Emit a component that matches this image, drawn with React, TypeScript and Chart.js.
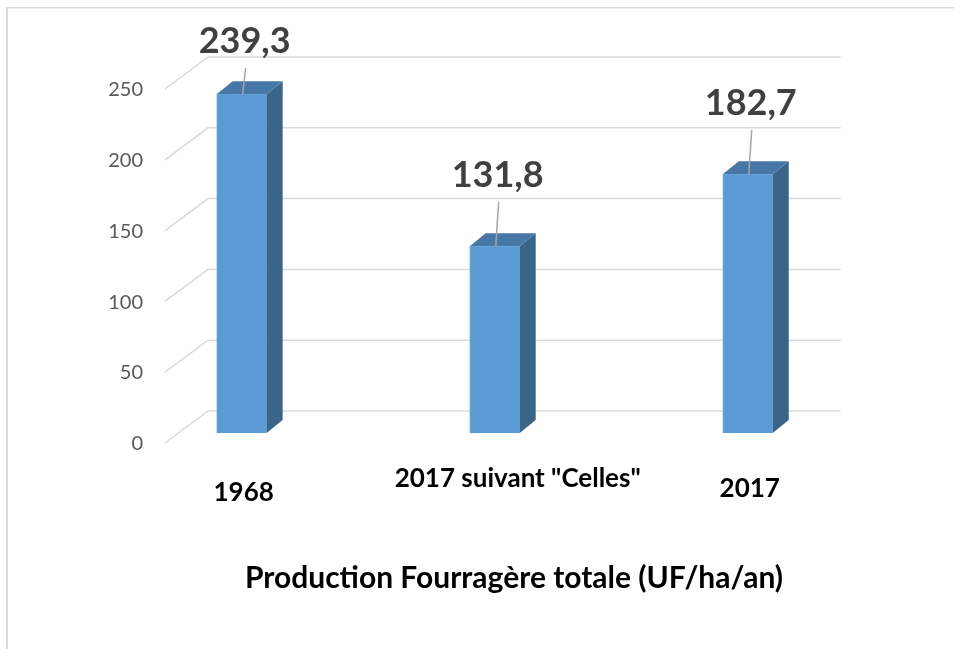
import React, { useEffect, useRef } from "react";
import { Chart, registerables } from "chart.js";

Chart.register(...registerables);

// ---- data ----
const categories = ["1968", "2017 suivant \"Celles\"", "2017"];
const values = [239.3, 131.8, 182.7];
const yTicks = [0, 50, 100, 150, 200, 250];
const axisTitle = "Production Fourragère totale (UF/ha/an)";

// ---- 3D look (layout / style) ----
const FRONT = { dx: -13.4, dy: 10 };
const BACK = { dx: 29.6, dy: -22 };
const BAR_DEPTH = { dx: 16, dy: -13 };
const CAT_NUDGE = [
  { dx: 2, dy: 68 },
  { dx: 23, dy: 54 },
  { dx: 2, dy: 64 },
];
const FONT = "Lato, 'Open Sans', sans-serif";

const fmt = (v: number) => v.toFixed(1).replace(".", ",");

const poly = (ctx: CanvasRenderingContext2D, pts: number[][]) => {
  ctx.beginPath();
  ctx.moveTo(pts[0][0], pts[0][1]);
  for (let i = 1; i < pts.length; i++) ctx.lineTo(pts[i][0], pts[i][1]);
  ctx.closePath();
  ctx.fill();
};

const threeD = {
  id: "threeD",
  beforeDraw(chart: any) {
    const { ctx, width, height } = chart;
    ctx.save();
    ctx.fillStyle = "#ffffff";
    ctx.fillRect(0, 0, width, height);
    ctx.fillStyle = "#d9d9d9";
    ctx.fillRect(6, 7, 2, height - 7);
    ctx.fillRect(6, 7, width - 6, 1.5);
    ctx.restore();
  },
  beforeDatasetsDraw(chart: any) {
    const { ctx, chartArea: a } = chart;
    const y = chart.scales.y;
    ctx.save();
    ctx.strokeStyle = "#d9d9d9";
    ctx.lineWidth = 1.5;
    yTicks.forEach((v) => {
      const py = y.getPixelForValue(v);
      ctx.beginPath();
      ctx.moveTo(a.left + FRONT.dx, py + FRONT.dy);
      ctx.lineTo(a.left + BACK.dx, py + BACK.dy);
      ctx.lineTo(a.right + BACK.dx, py + BACK.dy);
      ctx.stroke();
    });
    ctx.fillStyle = "#595959";
    ctx.font = `20px ${FONT}`;
    ctx.textAlign = "right";
    ctx.textBaseline = "alphabetic";
    yTicks.forEach((v) => {
      const py = y.getPixelForValue(v);
      ctx.fillText(String(v), a.left + FRONT.dx - 22, py + FRONT.dy + 7.2);
    });
    ctx.restore();
  },
  afterDatasetsDraw(chart: any) {
    const { ctx, chartArea: a } = chart;
    const meta = chart.getDatasetMeta(0);
    ctx.save();
    meta.data.forEach((bar: any, i: number) => {
      const { x, y: top, base, width } = bar.getProps(["x", "y", "base", "width"], true);
      const l = x - width / 2;
      const r = x + width / 2;
      ctx.fillStyle = "#3b6489";
      poly(ctx, [
        [r, top],
        [r + BAR_DEPTH.dx, top + BAR_DEPTH.dy],
        [r + BAR_DEPTH.dx, base + BAR_DEPTH.dy],
        [r, base],
      ]);
      ctx.fillStyle = "#4677a6";
      poly(ctx, [
        [l, top],
        [l + BAR_DEPTH.dx, top + BAR_DEPTH.dy],
        [r + BAR_DEPTH.dx, top + BAR_DEPTH.dy],
        [r, top],
      ]);

      // data label with leader line
      const baseline = Math.max(top - 59.5, a.top - 26);
      const lineStart = Math.max(baseline + 15, top - 45);
      ctx.strokeStyle = "#a6a6a6";
      ctx.lineWidth = 1.5;
      ctx.beginPath();
      ctx.moveTo(x + 4, lineStart);
      ctx.lineTo(x + 1, top);
      ctx.stroke();
      ctx.fillStyle = "#404040";
      ctx.font = `bold 36px ${FONT}`;
      ctx.textAlign = "center";
      ctx.textBaseline = "alphabetic";
      ctx.fillText(fmt(values[i]), x + 3, baseline);

      // category label
      ctx.fillStyle = "#000000";
      ctx.font = `bold 26px ${FONT}`;
      ctx.fillText(categories[i], x + CAT_NUDGE[i].dx, base + CAT_NUDGE[i].dy);
    });
    ctx.fillStyle = "#000000";
    ctx.font = `bold 30px ${FONT}`;
    ctx.textAlign = "center";
    ctx.fillText(axisTitle, 514, 588);
    ctx.restore();
  },
};

export default function App() {
  const ref = useRef<HTMLCanvasElement | null>(null);
  useEffect(() => {
    if (!ref.current) return;
    const chart = new Chart(ref.current, {
      type: "bar",
      data: {
        datasets: [
          {
            label: axisTitle,
            data: values.map((v, i) => ({ x: i, y: v })),
            backgroundColor: "#5b9bd5",
            borderColor: "#7fb2e2",
            borderWidth: 1,
            barThickness: 50,
          },
        ],
      },
      options: {
        animation: false,
        responsive: true,
        maintainAspectRatio: false,
        layout: { padding: { left: 178.4, right: 143, top: 79, bottom: 216 } },
        plugins: { legend: { display: false }, tooltip: { enabled: false }, title: { display: false } },
        scales: {
          x: { type: "linear", min: -0.25, max: 2.25, offset: false, display: false },
          y: { type: "linear", min: 0, max: 250, display: false },
        },
      },
      plugins: [threeD],
    });
    return () => chart.destroy();
  }, []);
  return (
    <div style={{ position: "absolute", left: 0, top: 0, width: 954, height: 649 }}>
      <canvas ref={ref} />
    </div>
  );
}
